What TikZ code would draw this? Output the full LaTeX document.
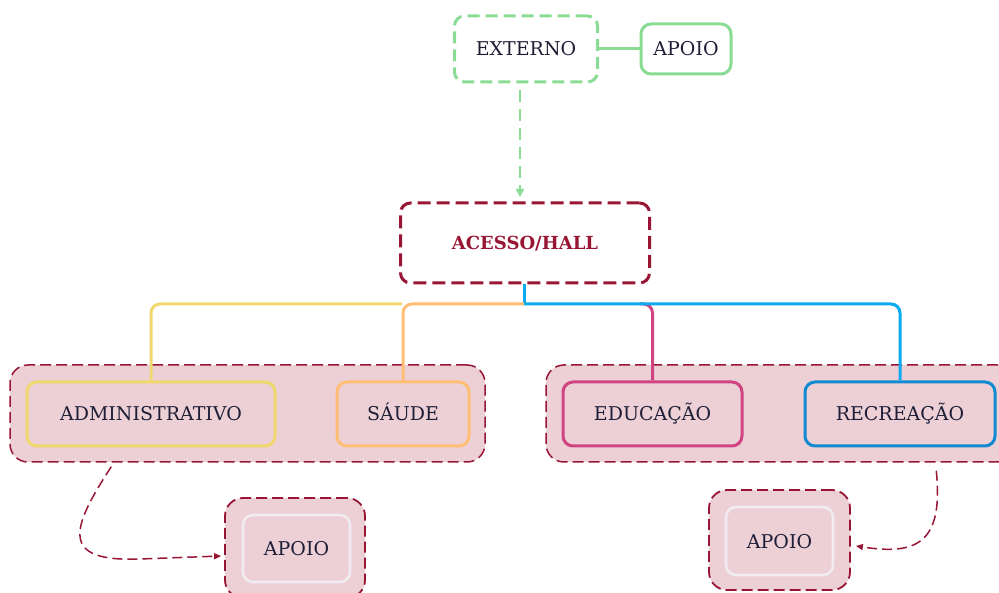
\documentclass[tikz,border=0pt]{standalone}
\usepackage{fontspec}
\setmainfont{DejaVu Serif}
\usepackage{xcolor}
\usetikzlibrary{arrows.meta,calc}
\definecolor{Cgreen}{RGB}{138,220,148}
\definecolor{Cred}{RGB}{152,22,52}
\definecolor{Cpink}{RGB}{236,208,214}
\definecolor{Cyellow}{RGB}{240,216,110}
\definecolor{Corange}{RGB}{255,190,115}
\definecolor{Cmagenta}{RGB}{208,68,130}
\definecolor{Cblue}{RGB}{18,138,210}
\definecolor{Clink}{RGB}{10,170,240}
\definecolor{Ctext}{RGB}{30,30,55}
\definecolor{Cinner}{RGB}{241,236,240}

\tikzset{
  label/.style={font=\fontsize{19}{22}\selectfont, text=Ctext, inner sep=0pt, text height=14pt, text depth=0pt},
  unit/.style={label, draw, line width=3pt, rounded corners=10pt},
  group/.style={draw=Cred, fill=Cpink, line width=1.5pt, dash pattern=on 11pt off 5pt, rounded corners=18pt, inner sep=0pt},
  branch/.style={line width=3pt, rounded corners=9pt},
}

\begin{document}
\begin{tikzpicture}[x=1pt,y=-1pt]

  \useasboundingbox (0,0) rectangle (999,593);

  % Entrance and outside.
  \node[unit, draw=Cgreen, dash pattern=on 12pt off 6pt, minimum width=143pt, minimum height=66pt] (externo) at (526,49) {EXTERNO};
  \node[unit, draw=Cgreen, minimum width=90pt, minimum height=50pt] (apoioTop) at (686,49) {APOIO};
  \draw[Cgreen, line width=3pt] (externo) -- (apoioTop);

  \node[unit, draw=Cred, dash pattern=on 13pt off 6pt, line width=3pt, minimum width=249pt, minimum height=80pt, text=Cred, font=\fontsize{18}{21}\selectfont\bfseries] (acesso) at (525,243) {ACESSO/HALL};
  \coordinate (entry) at (520,90);
  \draw[Cgreen, line width=1.8pt, dash pattern=on 12pt off 7pt, -{Triangle[length=8pt,width=8pt]}] (entry) -- (520,197);

  % Groups of sectors.
  \node[group, minimum width=475pt, minimum height=97pt] (grpLeft) at (247.5,413.5) {};
  \node[group, minimum width=470pt, minimum height=97pt] (grpRight) at (781,413.5) {};

  \node[unit, draw=Cyellow, minimum width=248pt, minimum height=64pt] (adm) at (151,414) {ADMINISTRATIVO};
  \node[unit, draw=Corange, minimum width=132pt, minimum height=64pt] (saude) at (403,414) {SÁUDE};
  \node[unit, draw=Cmagenta, minimum width=179pt, minimum height=64pt] (educacao) at (652.5,414) {EDUCAÇÃO};
  \node[unit, draw=Cblue, minimum width=190pt, minimum height=64pt] (recreacao) at (900,414) {RECREAÇÃO};

  % Branches from the hall.
  \coordinate (split) at (524,304);
  \draw[Cmagenta, branch] (640,304) -| (educacao.north);
  \draw[Clink, branch] (split) -| (recreacao.north);
  \draw[Clink, line width=3pt] (acesso.south -| split) -- ($(split)+(0,1.5)$);
  \draw[Corange, branch] (split) -| (saude.north);
  \draw[Cyellow, branch] (402,304) -| (adm.north);

  % Support rooms.
  \node[group, line width=1.8pt, minimum width=140pt, minimum height=100pt] (grpApoioL) at (295,548) {};
  \node[unit, draw=Cinner, line width=2.6pt, minimum width=107pt, minimum height=67pt] (apoioL) at (296.5,548.5) {APOIO};
  \node[group, line width=1.8pt, minimum width=141pt, minimum height=100pt] (grpApoioR) at (779.5,540) {};
  \node[unit, draw=Cinner, line width=2.6pt, minimum width=107pt, minimum height=68pt] (apoioR) at (779.5,541) {APOIO};

  \draw[Cred, line width=1.5pt, dash pattern=on 10pt off 5pt, -{Triangle[length=7pt,width=6pt]}]
    ($(grpLeft.south west)+(102,4)$) .. controls (70,530) and (60,562) .. (140,559) -- ($(grpApoioL.west)+(-3,8)$);
  \draw[Cred, line width=1.5pt, dash pattern=on 10pt off 5pt, -{Triangle[length=7pt,width=6pt]}]
    ($(grpRight.south west)+(391,8)$) .. controls (944,545) and (915,555) .. ($(grpApoioR.east)+(5,6)$);

\end{tikzpicture}
\end{document}
